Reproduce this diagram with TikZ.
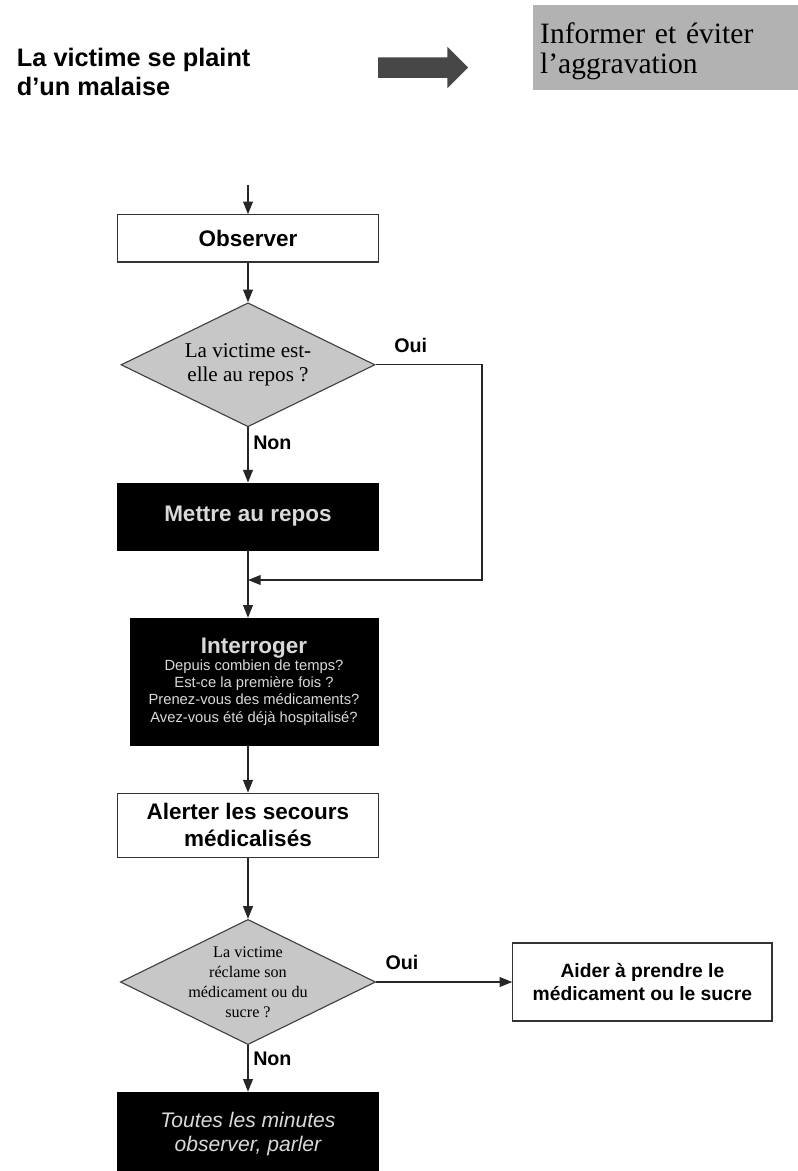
\documentclass[tikz,border=0pt]{standalone}
\usepackage{fontspec}
\setmainfont{Liberation Serif}
\setsansfont{Liberation Sans}
\usetikzlibrary{arrows.meta,positioning,shapes.geometric,shapes.arrows}

\begin{document}
\begin{tikzpicture}[
  >={Triangle[length=9pt,width=7pt]},
  % connectors
  flow/.style={draw=black!85, line width=0.8pt, ->},
  % boxes
  wbox/.style={draw=black!80, fill=white, line width=0.8pt,
               minimum width=6.53cm, align=center, inner sep=2pt,
               font=\sffamily\bfseries\fontsize{16}{19}\selectfont},
  bbox/.style={draw=black, fill=black, text=white!85!black,
               minimum width=6.53cm, align=center, inner sep=2pt},
  ask/.style={diamond, draw=black!75, fill=black!22, line width=0.8pt,
              aspect=2, inner sep=0pt, align=center,
              minimum width=6.35cm, minimum height=3.1cm},
  ans/.style={font=\sffamily\bfseries\fontsize{14}{16}\selectfont},
  % header
  fat/.style={single arrow, fill=black!72, draw=none,
              minimum height=2.25cm, inner ysep=0.25cm, inner xsep=0pt,
              single arrow head extend=0.26cm},
  note/.style={fill=black!30, draw=none, minimum width=6.63cm,
               minimum height=2.13cm, align=left, text width=6.25cm,
               text height=0.72cm,
               font=\rmfamily\fontsize{21}{21.5}\selectfont},
]
\useasboundingbox (0,0) rectangle (19.95,-29.275);

% ── Column positions ─────────────────────────────────────────────────────
\def\xC{6.2}     % main column
\def\xR{12.05}   % return line of the first question

% ── Header ───────────────────────────────────────────────────────────────
\node[anchor=west, align=left,
      font=\sffamily\bfseries\fontsize{18}{21}\selectfont] (plaint) at (0.3,-1.8)
  {La victime se plaint\\d’un malaise};
\node[fat] (goal) at (10.45,-1.69) {};
\node[note] (inform) at (16.63,-1.19)
  {Informer et éviter\\l’aggravation};

% ── Main column ──────────────────────────────────────────────────────────
\coordinate (entry) at (\xC,-4.62);
\node[wbox, minimum height=1.18cm] (observe) at (\xC,-5.96) {Observer};
\node[ask, font=\rmfamily\fontsize{15}{17}\selectfont] (rest) at (\xC,-9.12)
  {La victime est-\\elle au repos ?};
\node[bbox, minimum height=1.68cm,
      font=\sffamily\bfseries\fontsize{16}{19}\selectfont] (calm) at (\xC,-12.91)
  {Mettre au repos};
\coordinate (join) at (\xC,-14.5);
\coordinate (back) at (\xR,-9.12);
\node[bbox, minimum width=6.2cm, minimum height=3.18cm,
      font=\sffamily\fontsize{10.5}{12.2}\selectfont] (inter) at (6.35,-17.04)
  {{\bfseries\fontsize{16}{18}\selectfont Interroger}\\
   Depuis combien de temps?\\
   Est-ce la première fois ?\\
   Prenez-vous des médicaments?\\
   Avez-vous été déjà hospitalisé?};
\node[wbox, minimum height=1.6cm] (alert) at (\xC,-20.63)
  {Alerter les secours\\médicalisés};
\node[ask, minimum width=6.38cm, minimum height=3.13cm, inner sep=-0.2cm,
      font=\rmfamily\fontsize{11.5}{14.2}\selectfont] (drug) at (\xC,-24.55)
  {La victime\\réclame son\\médicament ou du\\sucre ?};
\node[wbox, minimum width=6.48cm, minimum height=1.95cm,
      font=\sffamily\bfseries\fontsize{13.7}{15.8}\selectfont] (help) at (16.06,-24.55)
  {Aider à prendre le\\médicament ou le sucre};
\node[bbox, minimum height=2.1cm,
      font=\sffamily\itshape\fontsize{15}{17.5}\selectfont] (watch) at (\xC,-28.35)
  {Toutes les minutes\\observer, parler};

% ── Connectors ───────────────────────────────────────────────────────────
\draw[flow] (entry) -- (observe);
\draw[flow] (observe) -- (rest);
\draw[flow] (rest) -- node[ans, anchor=west, pos=0.28] {Non} (calm);
\draw[flow] (rest.east) -- node[ans, above=5pt, pos=0.33] {Oui} (back) |- (join);
\draw[flow] (calm.south) -- (calm.south |- inter.north);
\draw[flow] (inter.south -| alert.north) -- (alert.north);
\draw[flow] (alert) -- (drug);
\draw[flow] (drug.east) -- node[ans, above=5pt, pos=0.19] {Oui} (help.west);
\draw[flow] (drug) -- node[ans, anchor=west, pos=0.3] {Non} (watch);

\end{tikzpicture}
\end{document}
